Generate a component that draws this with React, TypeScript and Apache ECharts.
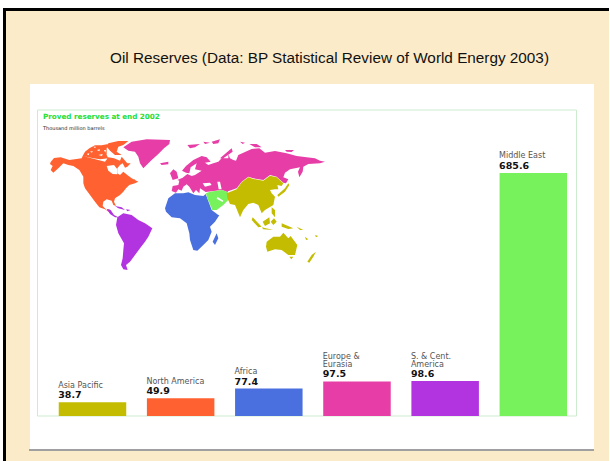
import React, { useEffect, useRef } from "react";
import * as echarts from "echarts";

const titleText = "Oil Reserves (Data: BP Statistical Review of World Energy 2003)";
const mapTitle = "Proved reserves at end 2002";
const mapUnit = "Thousand million barrels";
const categories = ["Asia Pacific", "North America", "Africa", "Europe &\nEurasia", "S. & Cent.\nAmerica", "Middle East"];
const reserves = [38.7, 49.9, 77.4, 97.5, 98.6, 685.6];
const barColors = ["#c4bc00", "#ff6230", "#4a70e0", "#e63ea6", "#b233e0", "#77f25c"];

type Trace = [number, number, number[]];
const NA: Trace[] = [
  [40, 130, [32,96,42,84,62,82,88,90,125,85,128,78,160,86,195,95,205,82,222,85,240,92,245,80,262,100,272,100,262,110,255,113,248,100,240,105,232,115,232,130,240,135,250,125,262,135,275,145,295,155,285,160,268,165,258,175,250,185,240,195,225,205,222,215,228,228,220,225,215,212,200,208,190,215,188,228,200,240,208,238,210,248,195,238,178,232,165,215,150,195,135,175,130,160,130,140,118,120,100,108,85,105,70,100,55,115,40,128,32,120,38,108,30,102]],
  [40, 130, [128,78,135,65,148,55,165,46,185,46,205,42,200,55,200,75,205,85,180,88,160,85]],
  [40, 130, [205,40,235,33,265,33,250,45,235,50,230,65,245,75,225,75,210,62,200,50]],
  [40, 130, [272,150,285,148,282,156,274,156]],
];
const SA: Trace[] = [
  [40, 130, [200,236,212,240,222,255,235,262,225,262,210,252]],
  [40, 130, [232,262,250,250,275,255,295,270,315,280,337,295,325,320,315,335,300,355,285,375,270,395,258,405,263,420,250,418,243,405,248,385,250,360,252,340,235,310,228,285]],
  [40, 130, [225,228,245,232,255,240,235,235]],
  [40, 130, [258,238,272,240,262,244]],
];
const EU: Trace[] = [
  [40, 130, [250,52,275,35,320,28,390,30,388,42,372,55,355,72,335,90,310,115,300,100,295,80,285,65,265,62]],
  [40, 130, [360,100,385,95,385,103,365,105]],
  [160, 130, [30,130,40,118,50,125,55,145,38,150]],
  [160, 130, [82,45,120,42,105,52,90,55]],
  [160, 130, [130,35,150,38,135,42]],
  [160, 130, [155,35,180,28,175,40,160,42]],
  [160, 130, [180,85,215,55,218,65,190,85]],
  [220, 130, [60,35,75,38,68,42]],
  [220, 130, [88,42,110,42,125,52,105,52]],
  [220, 130, [195,60,222,60,215,66,200,65]],
];
const EU_MAIN_WEST = [35,183,38,168,55,165,58,152,52,150,68,143,82,132,95,138,105,135,125,122,105,118,110,100,92,112,88,130,78,128,66,122,78,108,100,90,125,78,140,82,152,95,135,98,145,105,160,100,175,95,185,85,205,85];
const EU_MAIN_EAST = [25,72,30,85,40,90,48,92,55,75,70,68,95,57,118,55,135,68,165,63,200,70,230,78,260,82,285,85,300,92,315,95,300,100,265,102,250,110,248,125,238,142,234,125,240,112,210,118,195,128,190,142,205,148,198,160,190,158,170,140,150,135,130,150,100,145,85,140,65,155,50,175,20,185,0,188];
const EU_MAIN_SOUTH = [205,186,185,180,137,186,120,175,118,190,108,180,100,190,88,170,80,163,70,170,65,182,55,178,48,188];
const AF: Trace[] = [
  [160, 130, [15,235,25,205,45,190,70,190,85,187,105,195,130,198,137,192,155,240,175,255,178,256,165,275,150,290,155,305,145,330,130,345,112,362,100,360,90,330,88,310,80,280,60,265,35,262,18,245]],
  [160, 130, [170,310,175,325,165,345,158,335]],
];
const ME: Trace[] = [
  [160, 130, [138,190,150,185,185,180,203,186,205,210,190,225,170,240,157,240,142,205]],
];
const AS: Trace[] = [
  [220, 130, [20,190,50,178,65,157,85,142,100,147,130,152,150,137,170,142,190,160,185,168,172,165,175,178,165,178,150,180,155,190,165,200,160,225,135,240,125,250,115,225,100,218,85,222,70,240,60,262,45,225,30,222,22,205]],
  [220, 130, [208,165,195,185,175,200,172,195,195,175,205,160]],
  [220, 130, [98,262,125,290,115,292,95,270]],
  [220, 130, [125,292,160,300,130,298]],
  [220, 130, [128,275,148,262,150,280,135,288]],
  [220, 130, [155,232,165,240,165,262,155,250]],
  [220, 130, [162,265,170,275,160,285,152,275]],
  [220, 130, [185,280,220,295,205,297,185,290]],
  [220, 130, [230,290,250,300,240,300]],
  [220, 130, [255,320,265,328,258,330]],
  [220, 130, [285,315,295,318,288,322]],
  [220, 130, [140,335,160,320,180,320,190,308,205,325,212,318,232,345,225,375,205,375,185,360,165,358,142,365,138,350]],
  [220, 130, [208,380,220,380,214,388]],
  [220, 130, [262,395,275,375,288,365,280,380,268,398]],
];
const WATER: Trace[] = [
  [40, 130, [200,108,222,105,232,118,232,133,218,132,205,122]],
  [40, 130, [150,65,158,63,156,68]],
  [40, 130, [170,60,180,58,178,64]],
  [40, 130, [175,75,188,72,186,78]],
  [40, 130, [140,72,148,70,146,76]],
  [40, 130, [192,60,198,60,196,68]],
  [40, 130, [160,50,168,50,165,54]],
  [160, 130, [172,200,190,212,188,216,170,206]],
  [160, 130, [128,160,150,158,155,165,135,170]],
  [160, 130, [172,155,180,155,185,178,176,178]],
];

const ring = (ox: number, oy: number, f: number[]) => {
  const pts: number[][] = [];
  for (let i = 0; i < f.length; i += 2) pts.push([ox + f[i] / 3, oy + f[i + 1] / 3]);
  pts.push(pts[0]);
  return pts;
};
const polys = (t: Trace[]) => t.map(([x, y, f]) => [ring(x, y, f)]);

const euMain = [
  ...ring(160, 130, EU_MAIN_WEST).slice(0, -1),
  ...ring(220, 130, EU_MAIN_EAST).slice(0, -1),
  ...ring(160, 130, EU_MAIN_SOUTH).slice(0, -1),
];
euMain.push(euMain[0]);

const regions: [string, number[][][][], string][] = [
  ["Europe & Eurasia", [...polys(EU), [euMain]], barColors[3]],
  ["North America", polys(NA), barColors[1]],
  ["S. & Cent. America", polys(SA), barColors[4]],
  ["Africa", polys(AF), barColors[2]],
  ["Middle East", polys(ME), barColors[5]],
  ["Asia Pacific", polys(AS), barColors[0]],
  ["Water", polys(WATER), "#ffffff"],
];

const geoJson = {
  type: "FeatureCollection",
  features: regions.map(([name, coordinates]) => ({
    type: "Feature",
    properties: { name },
    geometry: { type: "MultiPolygon", coordinates },
  })),
};

const allPts = regions.flatMap((r) => r[1].flat(2));
const minX = Math.min(...allPts.map((p) => p[0]));
const maxX = Math.max(...allPts.map((p) => p[0]));
const minY = Math.min(...allPts.map((p) => p[1]));
const maxY = Math.max(...allPts.map((p) => p[1]));

export default function App() {
  const ref = useRef<HTMLDivElement>(null);
  useEffect(() => {
    if (!ref.current) return;
    echarts.registerMap("oilWorld", geoJson as any);
    const chart = echarts.init(ref.current, undefined, { renderer: "svg" });
    chart.setOption({
      animation: false,
      backgroundColor: "#ffffff",
      grid: { left: 48.4, width: 529, top: 110, height: 306 },
      xAxis: { type: "category", data: categories, show: false },
      yAxis: { type: "value", min: 0, max: 863, show: false },
      graphic: [
        { type: "rect", z: 0, shape: { x: 3, y: 8, width: 606, height: 453 }, style: { fill: "#fbebc8" } },
        { type: "rect", z: 0, shape: { x: 3, y: 8, width: 606, height: 3 }, style: { fill: "#000000" } },
        { type: "rect", z: 0, shape: { x: 3, y: 8, width: 3, height: 453 }, style: { fill: "#000000" } },
        { type: "rect", z: 0, shape: { x: 30, y: 84, width: 564, height: 366 }, style: { fill: "#ffffff" } },
        { type: "rect", z: 0, shape: { x: 29, y: 449, width: 565, height: 2 }, style: { fill: "#a0a0a0" } },
        { type: "rect", z: 0, shape: { x: 37.5, y: 110, width: 539, height: 306 }, style: { fill: "none", stroke: "#cdeccd", lineWidth: 1 } },
        { type: "text", z: 1, x: 110, y: 50, style: { text: titleText, fill: "#111111", font: "15.3px 'Liberation Sans'" } },
        { type: "text", z: 1, x: 43, y: 113, style: { text: mapTitle, fill: "#22e03a", font: "bold 7.2px 'DejaVu Sans'" } },
        { type: "text", z: 1, x: 43, y: 125, style: { text: mapUnit, fill: "#222222", font: "5px 'DejaVu Sans'" } },
      ],
      series: [
        {
          type: "map",
          map: "oilWorld",
          projection: { project: (p: number[]) => p, unproject: (p: number[]) => p },
          left: minX,
          top: minY,
          width: maxX - minX,
          height: maxY - minY,
          roam: false,
          silent: true,
          selectedMode: false,
          label: { show: false },
          emphasis: { disabled: true },
          itemStyle: { borderWidth: 0 },
          data: regions.map(([name, , color]) => ({
            name,
            value: reserves[categories.findIndex((c) => c.replace("\n", " ") === name)] ?? 0,
            itemStyle: { areaColor: color, borderWidth: 0 },
          })),
        },
        {
          type: "bar",
          barWidth: 67.5,
          silent: true,
          data: reserves.map((value, i) => ({ value, itemStyle: { color: barColors[i] } })),
          label: {
            show: true,
            position: [-0.5, -2],
            align: "left",
            verticalAlign: "bottom",
            formatter: (p: any) =>
              p.name.split("\n").map((s: string) => `{n|${s}}`).join("\n") + `\n{v|${p.value}}`,
            rich: {
              n: { fontFamily: "DejaVu Sans", fontSize: 8, lineHeight: 8, color: "#555555" },
              v: { fontFamily: "DejaVu Sans", fontWeight: "bold", fontSize: 9.5, lineHeight: 11, color: "#111111" },
            },
          },
        },
      ],
    });
    return () => chart.dispose();
  }, []);
  return <div ref={ref} style={{ position: "fixed", left: 0, top: 0, width: 610, height: 461 }} />;
}
